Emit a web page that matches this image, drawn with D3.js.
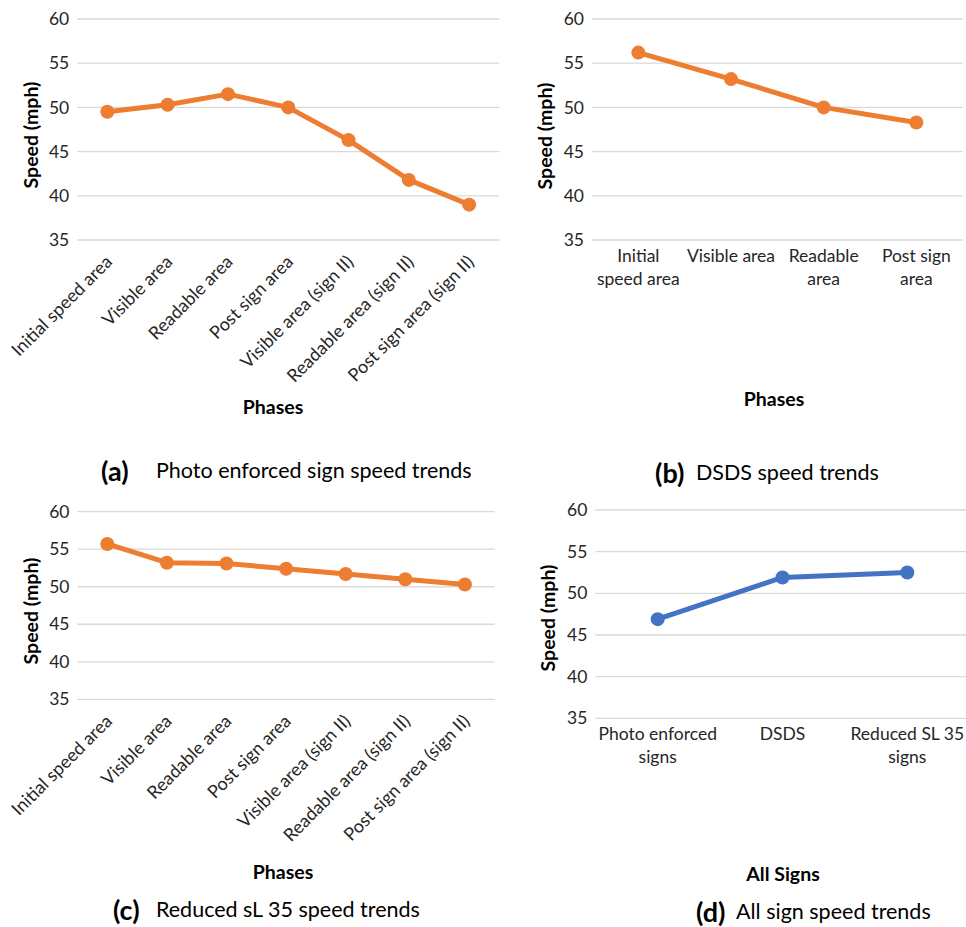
<!DOCTYPE html>
<html>
<head>
<meta charset="utf-8">
<script src="https://cdn.jsdelivr.net/npm/d3@7"></script>
<style>
  html, body { margin: 0; padding: 0; background: #ffffff; }
  svg { display: block; }
  text { font-family: Lato, "Open Sans", sans-serif; }
</style>
</head>
<body>
<svg id="chart" width="966" height="927"></svg>
<script>
// ---- data ----
const phasesLong = ["Initial speed area", "Visible area", "Readable area", "Post sign area",
  "Visible area (sign II)", "Readable area (sign II)", "Post sign area (sign II)"];
const photoEnforcedSpeeds = [49.5, 50.3, 51.5, 50.0, 46.3, 41.8, 39.0];

const phasesShort = [["Initial", "speed area"], ["Visible area"], ["Readable", "area"], ["Post sign", "area"]];
const dsdsSpeeds = [56.2, 53.2, 50.0, 48.3];

const reducedSL35Speeds = [55.7, 53.2, 53.1, 52.4, 51.7, 51.0, 50.3];

const signTypes = [["Photo enforced", "signs"], ["DSDS"], ["Reduced SL 35", "signs"]];
const allSignSpeeds = [46.9, 51.9, 52.5];

const yTicks = [35, 40, 45, 50, 55, 60];

const panels = [
  { id: "a", cats: phasesLong, vals: photoEnforcedSpeeds, color: "#ED7D31", rotated: true,
    x0: 77.2, x1: 499.3, yTop: 19, yBot: 240, ytX: 30, ytY: 135,
    xTitle: "Phases", xtX: 273, xtY: 406,
    capLabel: "(a)", capText: "Photo enforced sign speed trends", capX: 101, capTextX: 156, capY: 470 },
  { id: "b", cats: phasesShort, vals: dsdsSpeeds, color: "#ED7D31", rotated: false,
    x0: 592, x1: 962.7, yTop: 19, yBot: 240, ytX: 544, ytY: 136,
    xTitle: "Phases", xtX: 774, xtY: 398,
    capLabel: "(b)", capText: "DSDS speed trends", capX: 655, capTextX: 696, capY: 472 },
  { id: "c", cats: phasesLong, vals: reducedSL35Speeds, color: "#ED7D31", rotated: true,
    x0: 77.5, x1: 494.7, yTop: 511.7, yBot: 699.3, ytX: 30, ytY: 611,
    xTitle: "Phases", xtX: 283, xtY: 871,
    capLabel: "(c)", capText: "Reduced sL 35 speed trends", capX: 113, capTextX: 156, capY: 909 },
  { id: "d", cats: signTypes, vals: allSignSpeeds, color: "#4472C4", rotated: false,
    x0: 595.3, x1: 969.7, yTop: 510, yBot: 718.3, ytX: 547, ytY: 618,
    xTitle: "All Signs", xtX: 783, xtY: 873,
    capLabel: "(d)", capText: "All sign speed trends", capX: 696, capTextX: 736, capY: 911 }
];

const FS = 17.5;
const svg = d3.select("#chart");

panels.forEach(p => {
  const g = svg.append("g").attr("class", "panel-" + p.id);
  const keys = p.cats.map((c, i) => i);
  const x = d3.scaleBand().domain(keys).range([p.x0, p.x1]);
  const y = d3.scaleLinear().domain([35, 60]).range([p.yBot, p.yTop]);
  const cx = i => x(i) + x.bandwidth() / 2;

  // gridlines
  g.append("g").selectAll("line").data(yTicks).join("line")
    .attr("x1", p.x0).attr("x2", p.x1)
    .attr("y1", d => y(d)).attr("y2", d => y(d))
    .attr("stroke", "#D9D9D9").attr("stroke-width", 1.3);

  // y axis labels
  const yAxis = d3.axisLeft(y).tickValues(yTicks).tickSize(0).tickPadding(8);
  const ya = g.append("g").attr("transform", `translate(${p.x0},0)`).call(yAxis);
  ya.select(".domain").remove();
  ya.selectAll("text").attr("font-size", FS).attr("fill", "#262626")
    .style("font-family", "Lato, 'Open Sans', sans-serif");

  // x labels
  if (p.rotated) {
    g.append("g").selectAll("text").data(p.cats).join("text")
      .attr("transform", (d, i) => `translate(${cx(i) + 6},${p.yBot + 23}) rotate(-45)`)
      .attr("text-anchor", "end")
      .attr("font-size", 18).attr("fill", "#262626")
      .text(d => d);
  } else {
    const lab = g.append("g").selectAll("text").data(p.cats).join("text")
      .attr("text-anchor", "middle")
      .attr("font-size", FS).attr("fill", "#262626")
      .attr("x", (d, i) => cx(i))
      .attr("y", p.yBot + 22);
    lab.selectAll("tspan").data(d => d).join("tspan")
      .attr("x", function() { return d3.select(this.parentNode).attr("x"); })
      .attr("dy", (d, j) => j === 0 ? 0 : 22.6)
      .text(d => d);
  }

  // line
  const line = d3.line().x((d, i) => cx(i)).y(d => y(d));
  g.append("path").datum(p.vals)
    .attr("d", line).attr("fill", "none")
    .attr("stroke", p.color).attr("stroke-width", 5)
    .attr("stroke-linejoin", "round").attr("stroke-linecap", "round");
  g.append("g").selectAll("circle").data(p.vals).join("circle")
    .attr("cx", (d, i) => cx(i)).attr("cy", d => y(d)).attr("r", 7)
    .attr("fill", p.color);

  // y title
  g.append("text")
    .attr("transform", `translate(${p.ytX},${p.ytY}) rotate(-90)`)
    .attr("text-anchor", "middle").attr("dominant-baseline", "central")
    .attr("font-size", 19.5).attr("font-weight", "bold").attr("fill", "#000")
    .text("Speed (mph)");

  // x title
  g.append("text")
    .attr("x", p.xtX).attr("y", p.xtY)
    .attr("text-anchor", "middle").attr("dominant-baseline", "central")
    .attr("font-size", 19.5).attr("font-weight", "bold").attr("fill", "#000")
    .text(p.xTitle);

  // caption
  g.append("text")
    .attr("x", p.capX).attr("y", p.capY)
    .attr("dominant-baseline", "central")
    .attr("font-size", 27).attr("font-weight", "bold").attr("fill", "#000")
    .text(p.capLabel);
  g.append("text")
    .attr("x", p.capTextX).attr("y", p.capY)
    .attr("dominant-baseline", "central")
    .attr("font-size", 21.5).attr("fill", "#000")
    .text(p.capText);
});
</script>
</body>
</html>
